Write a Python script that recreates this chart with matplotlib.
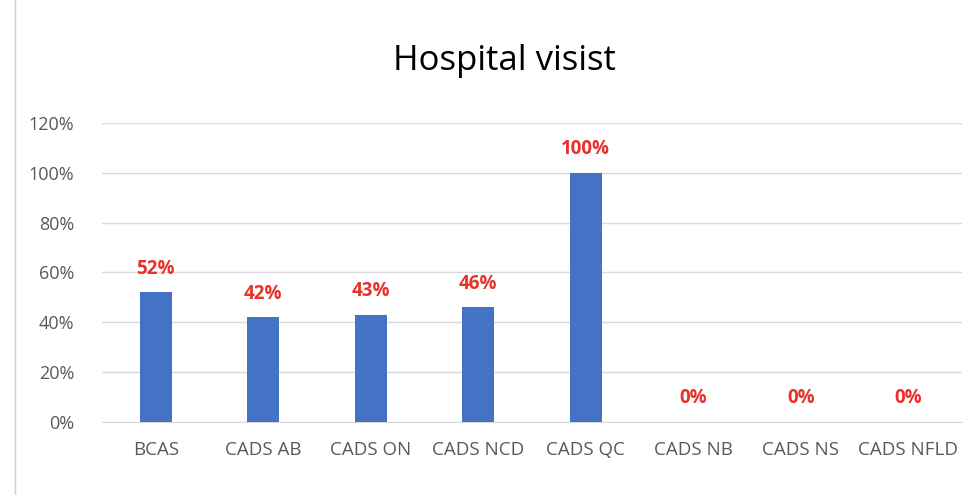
import numpy as np
import matplotlib.pyplot as plt
from matplotlib.lines import Line2D

# data
sites = ['BCAS', 'CADS AB', 'CADS ON', 'CADS NCD', 'CADS QC', 'CADS NB', 'CADS NS', 'CADS NFLD']
visits = [0.52, 0.42, 0.43, 0.46, 1.00, 0.0, 0.0, 0.0]
ticks = [0, 0.2, 0.4, 0.6, 0.8, 1.0, 1.2]

fig = plt.figure(figsize=(9.74, 4.95), dpi=100)
ax = fig.add_axes([0.1047, 0.1475, 0.883, 0.604])

x = np.arange(len(sites))
ax.bar(x, visits, width=0.3, color='#4472C4', zorder=3)

for xi, v in zip(x, visits):
    ax.text(xi, v + 0.055, '{:.0f}%'.format(v * 100), ha='center', va='bottom',
            color='#E8312A', fontsize=13.5, fontweight='bold', family='Open Sans')

ax.set_xlim(-0.5, len(sites) - 0.5)
ax.set_ylim(0, 1.2)
ax.set_yticks(ticks)
ax.set_yticklabels(['{:.0f}%'.format(t * 100) for t in ticks])
ax.set_xticks(x)
ax.set_xticklabels(sites)
ax.tick_params(axis='both', length=0, labelsize=13, colors='#595959')
ax.tick_params(axis='x', pad=14, labelsize=13.5)
ax.tick_params(axis='y', pad=20)
for lbl in ax.get_xticklabels() + ax.get_yticklabels():
    lbl.set_family('Open Sans')

ax.grid(axis='y', color='#D9D9D9', linewidth=1, zorder=0)
for s in ['top', 'right', 'left']:
    ax.spines[s].set_visible(False)
ax.spines['bottom'].set_color('#D9D9D9')

fig.text(0.518, 0.877, 'Hospital visist', ha='center', va='center', fontsize=25,
         family='Open Sans', color='#000000')

# chart frame edge on the left
fig.add_artist(Line2D([15 / 974, 15 / 974], [0, 1], color='#D0D0D0', linewidth=1))

fig.savefig('out.png', dpi=100)
